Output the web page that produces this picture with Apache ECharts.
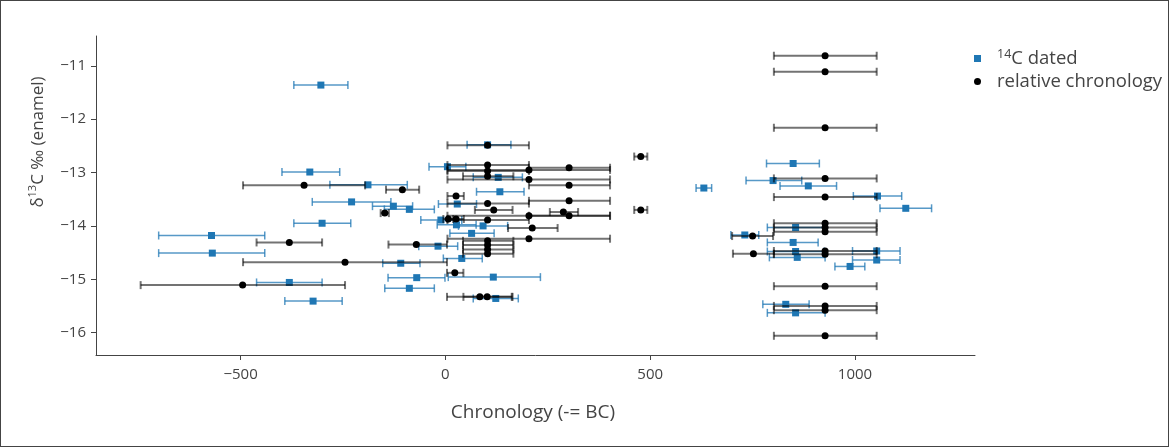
<!DOCTYPE html>
<html>
<head>
<meta charset="utf-8">
<script src="https://cdn.jsdelivr.net/npm/echarts@6/dist/echarts.min.js"></script>
<style>
html,body{margin:0;padding:0;background:#fff;}
#wrap{position:relative;width:1169px;height:447px;}
#chart{position:absolute;left:0;top:0;width:1169px;height:447px;}
#frame{position:absolute;left:0;top:0;width:1169px;height:447px;box-sizing:border-box;border:1px solid #444;pointer-events:none;}
</style>
</head>
<body>
<div id="wrap"><div id="chart"></div><div id="frame"></div></div>
<script>
// 14C dated samples: chronology (x), δ13C (y), chronology range (lo, hi)
const c14X  = [-304,-331,-189,-229,-127,-88,-301,-571,-569,-381,-323,-18,-109,40,-70,117,-88,123,103,5,129,133,29,-11,27,92,64,631,849,800,886,1055,1124,855,731,849,855,859,1053,1053,988,831,855];
const c14Y  = [-11.36,-12.99,-13.23,-13.55,-13.63,-13.69,-13.95,-14.18,-14.51,-15.06,-15.41,-14.38,-14.70,-14.61,-14.97,-14.96,-15.17,-15.36,-12.48,-12.89,-13.09,-13.36,-13.59,-13.89,-13.98,-14.0,-14.14,-13.29,-12.83,-13.15,-13.25,-13.44,-13.67,-14.03,-14.17,-14.31,-14.48,-14.59,-14.47,-14.64,-14.76,-15.47,-15.63];
const c14Lo = [-370,-399,-282,-325,-178,-149,-370,-700,-700,-461,-392,-65,-153,-5,-140,7,-148,68,53,-40,68,76,-17,-60,-20,32,11,612,784,734,817,996,1061,786,697,786,786,791,994,994,951,775,786];
const c14Hi = [-238,-258,-93,-133,-80,-27,-231,-441,-441,-301,-252,30,-62,90,-1,232,-27,178,160,50,188,192,76,40,75,152,119,650,913,870,955,1114,1187,922,765,910,925,927,1110,1110,1024,888,927];

// relative chronology samples
const relX  = [-345,-105,-148,-381,-245,-495,-71,23,84,102,103,103,103,103,204,302,204,302,26,103,302,118,288,302,204,477,477,7,26,103,212,204,103,103,103,103,927,927,927,927,927,927,927,927,927,927,927,927,927,927,750,752];
const relY  = [-13.24,-13.32,-13.76,-14.31,-14.68,-15.11,-14.35,-14.88,-15.33,-15.33,-12.49,-12.86,-12.97,-13.07,-12.95,-12.91,-13.13,-13.24,-13.44,-13.58,-13.53,-13.70,-13.74,-13.81,-13.81,-12.70,-13.70,-13.87,-13.87,-13.89,-14.04,-14.24,-14.28,-14.36,-14.44,-14.52,-10.81,-11.11,-12.16,-13.11,-13.46,-13.95,-14.03,-14.11,-14.47,-14.53,-15.13,-15.50,-15.58,-16.06,-14.19,-14.52];
const relLo = [-494,-145,-158,-461,-494,-744,-139,4,4,44,5,5,5,43,5,204,5,204,5,5,204,72,255,204,5,461,461,-5,5,5,153,5,43,43,43,43,802,802,802,802,802,802,802,802,802,802,802,802,802,802,700,702];
const relHi = [-196,-64,-138,-301,4,-245,4,44,164,162,204,204,204,166,402,402,402,402,45,204,402,164,324,402,402,493,493,19,45,204,274,402,166,166,166,166,1053,1053,1053,1053,1053,1053,1053,1053,1053,1053,1053,1053,1053,1053,800,802];

const xTicks = [-500, 0, 500, 1000];
const yTicks = [-16, -15, -14, -13, -12, -11];
const xTitle = 'Chronology (-= BC)';
const seriesNames = ['14C dated', 'relative chronology'];

const FONT = '"Open Sans", "DejaVu Sans", sans-serif';
const TXT = '#444';
const BLUE = '#1f77b4';

function rows(xs, ys, lo, hi) { return xs.map((x, i) => [x, ys[i], lo[i], hi[i]]); }
const c14Rows = rows(c14X, c14Y, c14Lo, c14Hi);
const relRows = rows(relX, relY, relLo, relHi);

function errBars(color, width) {
  return function (params, api) {
    const y = api.value(1);
    const a = api.coord([api.value(2), y]);
    const b = api.coord([api.value(3), y]);
    const c = 4;
    const st = { stroke: color, lineWidth: width };
    return { type: 'group', children: [
      { type: 'line', shape: { x1: a[0], y1: a[1], x2: b[0], y2: b[1] }, style: st },
      { type: 'line', shape: { x1: a[0], y1: a[1] - c, x2: a[0], y2: a[1] + c }, style: st },
      { type: 'line', shape: { x1: b[0], y1: b[1] - c, x2: b[0], y2: b[1] + c }, style: st }
    ]};
  };
}
const minus = v => String(v).replace('-', '\u2212');

const chart = echarts.init(document.getElementById('chart'), null, { renderer: 'canvas' });
chart.setOption({
  animation: false,
  backgroundColor: '#fff',
  textStyle: { fontFamily: FONT },
  grid: { left: 96, right: 194, top: 36, bottom: 92, containLabel: false },
  xAxis: {
    type: 'value', min: -853, max: 1293,
    splitLine: { show: false },
    axisLine: { show: true, onZero: false, lineStyle: { color: TXT, width: 1 } },
    axisTick: { show: true, length: 5, lineStyle: { color: TXT }, customValues: xTicks },
    axisLabel: { color: TXT, fontSize: 15, fontFamily: FONT, margin: 12, customValues: xTicks, formatter: minus }
  },
  yAxis: {
    type: 'value', min: -16.42, max: -10.44,
    splitLine: { show: false },
    axisLine: { show: true, onZero: false, lineStyle: { color: TXT, width: 1 } },
    axisTick: { show: true, length: 5, lineStyle: { color: TXT }, customValues: yTicks },
    axisLabel: { color: TXT, fontSize: 15, fontFamily: FONT, margin: 10, customValues: yTicks, formatter: minus }
  },
  legend: {
    data: [{ name: seriesNames[0], icon: 'rect' }, { name: seriesNames[1], icon: 'circle' }],
    orient: 'vertical', left: 969, top: 43,
    itemWidth: 7, itemHeight: 7, itemGap: 4,
    formatter: n => n === seriesNames[0] ? '{sup|14}{t|C dated}' : '{t|' + n + '}',
    textStyle: {
      color: TXT, fontFamily: FONT, fontSize: 18.5, padding: [0, 0, 0, 11],
      rich: {
        t: { fontSize: 18.5, fontFamily: FONT, color: TXT, lineHeight: 21 },
        sup: { fontSize: 12.5, fontFamily: FONT, color: TXT, verticalAlign: 'top', lineHeight: 21 }
      }
    }
  },
  graphic: [
    { type: 'text', silent: true, z: 10, x: 533, y: 413,
      style: { text: xTitle, fill: TXT, font: '19px ' + FONT, align: 'center', verticalAlign: 'middle' } },
    { type: 'text', silent: true, z: 10, x: 38, y: 142, rotation: Math.PI / 2,
      style: {
        text: '{t|δ}{sup|13}{t|C ‰ (enamel)}', align: 'center', verticalAlign: 'middle',
        rich: {
          t: { fontSize: 17, fontFamily: FONT, fill: TXT, lineHeight: 22 },
          sup: { fontSize: 11, fontFamily: FONT, fill: TXT, verticalAlign: 'top', lineHeight: 22 }
        }
      } }
  ],
  series: [
    { name: 'c14err', type: 'custom', renderItem: errBars('rgba(31,119,180,0.75)', 1.5), data: c14Rows, encode: { x: [0, 2, 3], y: 1 }, z: 1, silent: true },
    { name: seriesNames[0], type: 'scatter', symbol: 'rect', symbolSize: 7, itemStyle: { color: BLUE, opacity: 1 }, data: c14Rows.map(r => [r[0], r[1]]), z: 2 },
    { name: 'relerr', type: 'custom', renderItem: errBars('rgba(0,0,0,0.55)', 2), data: relRows, encode: { x: [0, 2, 3], y: 1 }, z: 3, silent: true },
    { name: seriesNames[1], type: 'scatter', symbol: 'circle', symbolSize: 7, itemStyle: { color: '#000', opacity: 1 }, data: relRows.map(r => [r[0], r[1]]), z: 4 }
  ]
});
</script>
</body>
</html>
